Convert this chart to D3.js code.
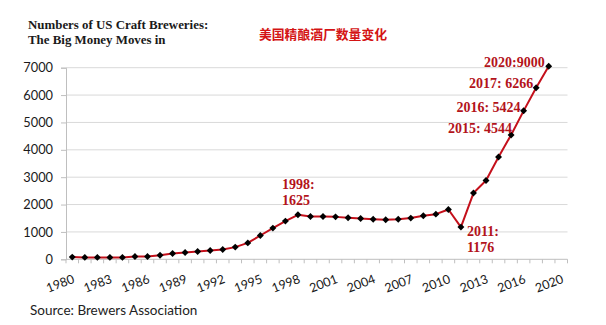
<!DOCTYPE html>
<html><head><meta charset="utf-8">
<script src="https://cdn.jsdelivr.net/npm/d3@7"></script>
<style>body{margin:0;background:#fff}svg{display:block}</style>
</head><body>
<svg id="c" width="606" height="325"></svg>
<script>
const categories = ["1980","1981","1982","1983","1984","1985","1986","1987","1988","1989","1990","1991","1992","1993","1994","1995","1996","1997","1998","1999","2000","2001","2002","2003","2004","2005","2006","2007","2008","2009","2010","2011","2012","2013","2014","2015","2016","2017","2018","2020"];
const breweries = [80,70,70,70,70,100,100,150,210,250,285,320,360,445,600,870,1140,1395,1625,1565,1565,1550,1515,1490,1465,1445,1465,1505,1590,1650,1820,1176,2420,2880,3735,4544,5424,6266,7050,null];
const tickLabels = ["1980","1983","1986","1989","1992","1995","1998","2001","2004","2007","2010","2013","2016","2020"];
const yTicks = [0,1000,2000,3000,4000,5000,6000,7000];
const annotations = [
  {i:18, lines:["1998:","1625"]},
  {i:31, lines:["2011:","1176"]},
  {i:35, lines:["2015: 4544"]},
  {i:36, lines:["2016: 5424"]},
  {i:37, lines:["2017: 6266"]},
  {i:38, lines:["2020:9000"]}
];

const svg = d3.select("#c");
const mLeft = 66, mRight = 567.5, mTop = 67.7, mBottom = 259.3;
const x = d3.scaleBand().domain(categories).range([mLeft, mRight]);
const y = d3.scaleLinear().domain([0, 7000]).range([mBottom, mTop]);
const cx = c => x(c) + x.bandwidth()/2;

// gridlines
svg.append("g").selectAll("line").data(yTicks.slice(1)).join("line")
  .attr("x1", mLeft).attr("x2", mRight)
  .attr("y1", d => y(d)).attr("y2", d => y(d))
  .attr("stroke", "#d9d9d9").attr("stroke-width", 1);

// y axis
const ya = svg.append("g").attr("transform", `translate(${mLeft},0)`)
  .call(d3.axisLeft(y).tickValues(yTicks).tickSize(5).tickPadding(8).tickFormat(d3.format("d")));
ya.select(".domain").attr("stroke", "#bfbfbf");
ya.selectAll(".tick line").attr("stroke", "#bfbfbf");
ya.selectAll("text").attr("font-family", "Lato, 'Open Sans', sans-serif").attr("font-size", "12.8px").attr("fill", "#1a1a1a");

// x axis line and ticks at category boundaries
svg.append("line").attr("x1", mLeft).attr("x2", mRight).attr("y1", mBottom).attr("y2", mBottom)
  .attr("stroke", "#bfbfbf");
svg.append("g").selectAll("line").data(d3.range(categories.length + 1)).join("line")
  .attr("x1", i => mLeft + i * x.step()).attr("x2", i => mLeft + i * x.step())
  .attr("y1", mBottom).attr("y2", mBottom + 4).attr("stroke", "#bfbfbf");

// x tick labels: every 3rd category
const labelIdx = d3.range(0, categories.length, 3);
svg.append("g").selectAll("text").data(labelIdx).join("text")
  .attr("transform", i => `translate(${cx(categories[i]) + 3},${mBottom + 23}) rotate(-21)`)
  .attr("text-anchor", "end")
  .attr("font-family", "Lato, 'Open Sans', sans-serif").attr("font-size", "12.5px").attr("fill", "#1a1a1a")
  .text((i, k) => tickLabels[k]);

// line
const pts = categories.map((c, i) => ({c, v: breweries[i]})).filter(d => d.v != null);
const line = d3.line().x(d => cx(d.c)).y(d => y(d.v));
svg.append("path").datum(pts).attr("d", line)
  .attr("fill", "none").attr("stroke", "#c4101b").attr("stroke-width", 2).attr("stroke-linejoin", "round");

// markers (diamonds)
const sym = d3.symbol().type(d3.symbolSquare).size(24);
svg.append("g").selectAll("path").data(pts).join("path")
  .attr("d", sym)
  .attr("transform", d => `translate(${cx(d.c)},${y(d.v)}) rotate(45)`)
  .attr("fill", "#000");

// annotations
const annPos = {
  18: {dx: -16, dy: -26, anchor: "start"},
  31: {dx: 6, dy: 9, anchor: "start"},
  35: {dx: 1, dy: -2, anchor: "end"},
  36: {dx: -3, dy: 1.5, anchor: "end"},
  37: {dx: -3, dy: 0, anchor: "end"},
  38: {dx: -4, dy: 0.5, anchor: "end"}
};
const ag = svg.append("g").attr("font-family", "'Liberation Serif', 'Times New Roman', serif")
  .attr("font-weight", "bold").attr("font-size", "14px").attr("fill", "#b3131b");
annotations.forEach(a => {
  const p = annPos[a.i];
  const t = ag.append("text")
    .attr("x", cx(categories[a.i]) + p.dx)
    .attr("y", y(breweries[a.i]) + p.dy)
    .attr("text-anchor", p.anchor);
  a.lines.forEach((l, k) => t.append("tspan").attr("x", cx(categories[a.i]) + p.dx).attr("dy", k ? 16 : 0).text(l));
});

// titles
const tg = svg.append("text").attr("font-family", "'Liberation Serif', 'Times New Roman', serif")
  .attr("font-weight", "bold").attr("font-size", "12.9px").attr("fill", "#1a1a1a");
tg.append("tspan").attr("x", 28).attr("y", 28.5).text("Numbers of US Craft Breweries:");
tg.append("tspan").attr("x", 28).attr("y", 44).text("The Big Money Moves in");

svg.append("text").attr("x", 259).attr("y", 38.5)
  .attr("font-family", "'Noto Sans CJK SC', sans-serif").attr("font-weight", "bold")
  .attr("font-size", "12.8px").attr("fill", "#d41414").text("美国精酿酒厂数量变化");

svg.append("text").attr("x", 30).attr("y", 315)
  .attr("font-family", "Lato, 'Open Sans', sans-serif").attr("font-size", "13.5px").attr("fill", "#222")
  .text("Source: Brewers Association");
</script>
</body></html>
